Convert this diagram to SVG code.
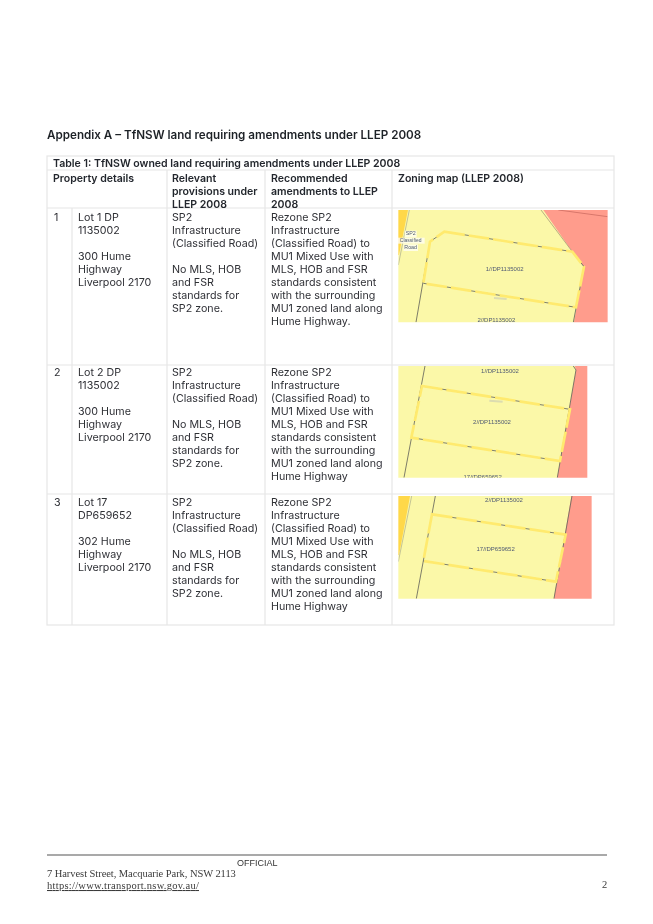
<svg xmlns="http://www.w3.org/2000/svg" width="653" height="924" viewBox="0 0 653 924">
<style>
text{font-family:"Inter","Noto Sans",sans-serif;fill:#2f3036}
.b{font-size:10.7px}
.h{font-size:10.55px;font-weight:600;fill:#24272d}
.t{font-size:11.65px;font-weight:600;fill:#1f2228}
.g{fill:none;stroke:#e6e6e6;stroke-width:1.2}
.red{fill:#ff9c8c}
.bg{fill:#fbf8a8}
.gold{fill:#ffd84a}
.gl{fill:none;stroke:#6a6a5e;stroke-width:2.6}
.yl{fill:none;stroke:#ffea6e;stroke-width:8;stroke-dasharray:62 12}
.ml{font-family:"Liberation Sans",sans-serif;font-size:18px;fill:#4f5a72}
.ft{font-family:"Liberation Serif",serif;font-size:10.5px;fill:#3a3a3a;letter-spacing:.15px}
</style>
<defs>
<filter id="soft" x="-2%" y="-2%" width="104%" height="104%"><feGaussianBlur stdDeviation="1.5"/></filter>
<filter id="tb" x="-2%" y="-5%" width="104%" height="110%"><feGaussianBlur stdDeviation=".28"/></filter>
<filter id="tm" x="-5%" y="-20%" width="110%" height="140%"><feGaussianBlur stdDeviation="1"/></filter>
<clipPath id="c1"><rect x="25" y="30" width="628" height="337"/></clipPath>
<clipPath id="c2"><rect x="25" y="18" width="567" height="335"/></clipPath>
<clipPath id="c3"><rect x="25" y="18" width="580" height="308"/></clipPath>
</defs>

<text class="t" x="47" y="139" filter="url(#tb)">Appendix A – TfNSW land requiring amendments under LLEP 2008</text>

<g id="table">
<rect class="g" x="47" y="156" width="567" height="469"/>
<path class="g" d="M47 170H614M47 208H614M47 365H614M47 494H614M72 208V625M167 170V625M265 170V625M392 170V625"/>
<g filter="url(#tb)">
<text class="h" x="53" y="166.500">Table 1: TfNSW owned land requiring amendments under LLEP 2008</text>
<text class="h" x="53" y="182">Property details</text>
<text class="h"><tspan x="172" y="182">Relevant</tspan><tspan x="172" y="195">provisions under</tspan><tspan x="172" y="208">LLEP 2008</tspan></text>
<text class="h"><tspan x="271" y="182">Recommended</tspan><tspan x="271" y="195">amendments to LLEP</tspan><tspan x="271" y="208">2008</tspan></text>
<text class="h" x="398" y="182">Zoning map (LLEP 2008)</text>
</g>
</g>

<g id="row1" filter="url(#tb)">
<text class="b" x="54" y="221">1</text>
<text class="b"><tspan x="78" y="221">Lot 1 DP</tspan><tspan x="78" y="234">1135002</tspan><tspan x="78" y="260">300 Hume</tspan><tspan x="78" y="273">Highway</tspan><tspan x="78" y="286">Liverpool 2170</tspan></text>
<text class="b"><tspan x="172" y="221">SP2</tspan><tspan x="172" y="234">Infrastructure</tspan><tspan x="172" y="247">(Classified Road)</tspan><tspan x="172" y="273">No MLS, HOB</tspan><tspan x="172" y="286">and FSR</tspan><tspan x="172" y="299">standards for</tspan><tspan x="172" y="312">SP2 zone.</tspan></text>
<text class="b"><tspan x="271" y="221">Rezone SP2</tspan><tspan x="271" y="234">Infrastructure</tspan><tspan x="271" y="247">(Classified Road) to</tspan><tspan x="271" y="260">MU1 Mixed Use with</tspan><tspan x="271" y="273">MLS, HOB and FSR</tspan><tspan x="271" y="286">standards consistent</tspan><tspan x="271" y="299">with the surrounding</tspan><tspan x="271" y="312">MU1 zoned land along</tspan><tspan x="271" y="325">Hume Highway.</tspan></text>
</g>

<g id="row2" filter="url(#tb)">
<text class="b" x="54" y="376">2</text>
<text class="b"><tspan x="78" y="376">Lot 2 DP</tspan><tspan x="78" y="389">1135002</tspan><tspan x="78" y="415">300 Hume</tspan><tspan x="78" y="428">Highway</tspan><tspan x="78" y="441">Liverpool 2170</tspan></text>
<text class="b"><tspan x="172" y="376">SP2</tspan><tspan x="172" y="389">Infrastructure</tspan><tspan x="172" y="402">(Classified Road)</tspan><tspan x="172" y="428">No MLS, HOB</tspan><tspan x="172" y="441">and FSR</tspan><tspan x="172" y="454">standards for</tspan><tspan x="172" y="467">SP2 zone.</tspan></text>
<text class="b"><tspan x="271" y="376">Rezone SP2</tspan><tspan x="271" y="389">Infrastructure</tspan><tspan x="271" y="402">(Classified Road) to</tspan><tspan x="271" y="415">MU1 Mixed Use with</tspan><tspan x="271" y="428">MLS, HOB and FSR</tspan><tspan x="271" y="441">standards consistent</tspan><tspan x="271" y="454">with the surrounding</tspan><tspan x="271" y="467">MU1 zoned land along</tspan><tspan x="271" y="480">Hume Highway</tspan></text>
</g>

<g id="row3" filter="url(#tb)">
<text class="b" x="54" y="506">3</text>
<text class="b"><tspan x="78" y="506">Lot 17</tspan><tspan x="78" y="519">DP659652</tspan><tspan x="78" y="545">302 Hume</tspan><tspan x="78" y="558">Highway</tspan><tspan x="78" y="571">Liverpool 2170</tspan></text>
<text class="b"><tspan x="172" y="506">SP2</tspan><tspan x="172" y="519">Infrastructure</tspan><tspan x="172" y="532">(Classified Road)</tspan><tspan x="172" y="558">No MLS, HOB</tspan><tspan x="172" y="571">and FSR</tspan><tspan x="172" y="584">standards for</tspan><tspan x="172" y="597">SP2 zone.</tspan></text>
<text class="b"><tspan x="271" y="506">Rezone SP2</tspan><tspan x="271" y="519">Infrastructure</tspan><tspan x="271" y="532">(Classified Road) to</tspan><tspan x="271" y="545">MU1 Mixed Use with</tspan><tspan x="271" y="558">MLS, HOB and FSR</tspan><tspan x="271" y="571">standards consistent</tspan><tspan x="271" y="584">with the surrounding</tspan><tspan x="271" y="597">MU1 zoned land along</tspan><tspan x="271" y="610">Hume Highway</tspan></text>
</g>

<g id="map1" transform="translate(390 200) scale(.3333)">
<g clip-path="url(#c1)">
<g filter="url(#soft)">
<rect class="bg" x="15" y="20" width="648" height="357"/>
<path class="red" d="M453 20H663V377H550L582 200 547 155Z"/>
<path class="gold" d="M15 20H56L27 165H15Z"/>
<path d="M58 30L25 195" fill="none" stroke="#c4c494" stroke-width="3"/>
<path d="M453 30L547 155" fill="none" stroke="#9a8a70" stroke-width="2"/>
<path class="gl" d="M163 95L120 125 78 367M163 95L547 155 582 200 550 367M100 250L558 322"/>
<path class="yl" d="M163 95L547 155 582 200 558 322 100 250 120 125Z"/>
<path d="M505 30L653 50" fill="none" stroke="#d8766a" stroke-width="3"/>
<path d="M312 294L350 297" fill="none" stroke="#dcdcb0" stroke-width="6"/>
<rect x="44" y="92" width="36" height="20" fill="#fff" opacity=".7"/>
<rect x="24" y="113" width="80" height="18" fill="#fff" opacity=".7"/>
<rect x="40" y="133" width="44" height="20" fill="#fff" opacity=".7"/>
</g>
<g filter="url(#tm)">
<text class="ml" x="62" y="106" text-anchor="middle" style="font-size:16px">SP2</text>
<text class="ml" x="62" y="127" text-anchor="middle" style="font-size:15px">Classified</text>
<text class="ml" x="62" y="148" text-anchor="middle" style="font-size:16px">Road</text>
<text class="ml" x="344" y="212" text-anchor="middle">1//DP1135002</text>
<text class="ml" x="319" y="367" text-anchor="middle">2//DP1135002</text>
</g>
</g>
</g>

<g id="map2" transform="translate(390 360) scale(.3333)">
<g clip-path="url(#c2)">
<g filter="url(#soft)">
<rect class="bg" x="15" y="8" width="587" height="355"/>
<path class="red" d="M552 8H602V363H500L558 30Z"/>
<path class="gl" d="M105 18L42 353M558 30L502 353M550 18L558 30M96 78L540 148M64 233L510 303"/>
<path class="yl" d="M96 78L540 148 510 303 64 233Z"/>
<path d="M298 122L338 125" fill="none" stroke="#dcdcb0" stroke-width="6"/>
</g>
<g filter="url(#tm)">
<text class="ml" x="330" y="40" text-anchor="middle">1//DP1135002</text>
<text class="ml" x="306" y="191" text-anchor="middle">2//DP1135002</text>
<text class="ml" x="278" y="356" text-anchor="middle">17//DP659652</text>
</g>
</g>
</g>

<g id="map3" transform="translate(390 490) scale(.3333)">
<g clip-path="url(#c3)">
<g filter="url(#soft)">
<rect class="bg" x="15" y="8" width="600" height="328"/>
<path class="red" d="M546 8H615V336H490Z"/>
<path class="gold" d="M15 8H62L27 195H15Z"/>
<path d="M65 18L25 215" fill="none" stroke="#c4c494" stroke-width="3"/>
<path class="gl" d="M136 18L79 326M546 18L492 326M126 73L527 134M100 213L498 275"/>
<path class="yl" d="M126 73L527 134 498 275 100 213Z"/>
</g>
<g filter="url(#tm)">
<text class="ml" x="342" y="35" text-anchor="middle">2//DP1135002</text>
<text class="ml" x="317" y="183" text-anchor="middle">17//DP659652</text>
</g>
</g>
</g>

<g id="footer" filter="url(#tb)">
<line x1="47" y1="855" x2="607" y2="855" stroke="#555" stroke-width="1"/>
<text x="237" y="866" style="font-family:'Liberation Sans',sans-serif;font-size:9px;fill:#333">OFFICIAL</text>
<text class="ft" x="47" y="877" textLength="189">7 Harvest Street, Macquarie Park, NSW 2113</text>
<text class="ft" x="47" y="889" textLength="152" text-decoration="underline">https://www.transport.nsw.gov.au/</text>
<text class="ft" x="602" y="888">2</text>
</g>
</svg>
